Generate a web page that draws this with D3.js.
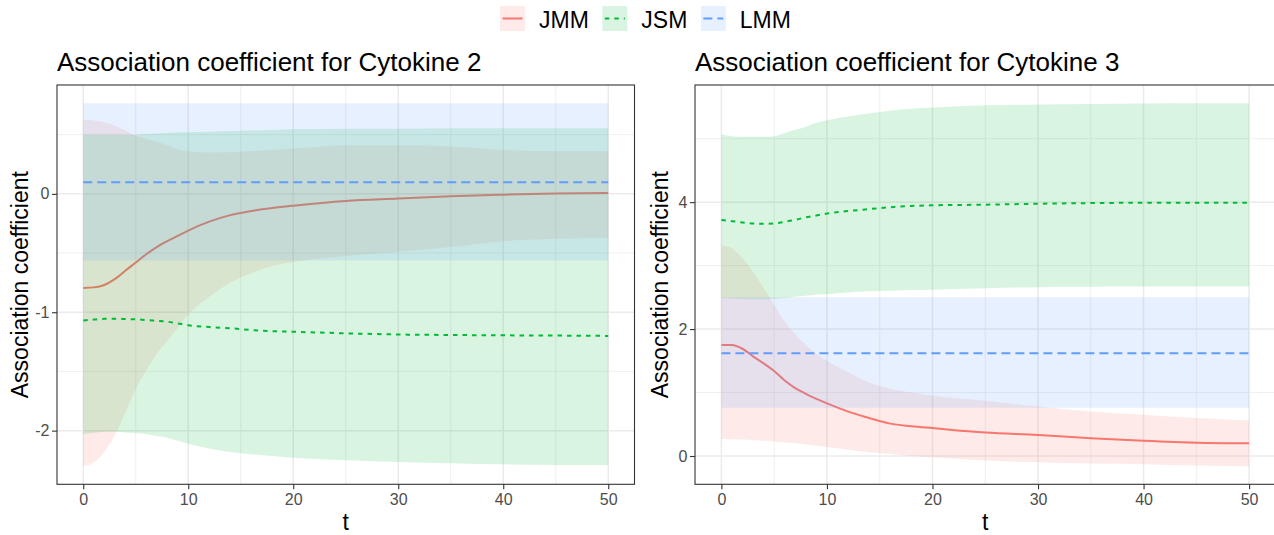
<!DOCTYPE html>
<html>
<head>
<meta charset="utf-8">
<script src="https://cdn.jsdelivr.net/npm/d3@7"></script>
<style>
  body { margin: 0; background: #fff; }
  svg text { font-family: "Liberation Sans", Arial, sans-serif; }
</style>
</head>
<body>
<svg id="chart" width="1274" height="535"></svg>
<script>
// time grid the curves were read at
const times = [0, 1, 2, 3, 4, 5, 6, 7, 8, 9, 10, 12, 14, 16, 18, 20, 25, 30, 35, 40, 45, 50];
const lmmTimes = [0, 50];

const models = ["JMM", "JSM", "LMM"];
const colors = ["#F8766D", "#00BA38", "#619CFF"];
const dashes = [null, "4.5,5", "9,5"];

const xTicks = [0, 10, 20, 30, 40, 50];

// Cytokine 2
const c2JmmEst  = [-0.795, -0.79, -0.77, -0.72, -0.65, -0.58, -0.51, -0.45, -0.40, -0.355, -0.31, -0.235, -0.18, -0.145, -0.12, -0.10, -0.06, -0.04, -0.02, -0.007, 0.003, 0.008];
const c2JmmLow  = [-2.30, -2.27, -2.18, -2.04, -1.85, -1.65, -1.49, -1.35, -1.24, -1.13, -1.02, -0.87, -0.75, -0.67, -0.61, -0.575, -0.525, -0.49, -0.45, -0.40, -0.38, -0.37];
const c2JmmHigh = [0.625, 0.62, 0.605, 0.575, 0.535, 0.49, 0.465, 0.44, 0.41, 0.375, 0.36, 0.35, 0.352, 0.36, 0.37, 0.38, 0.41, 0.41, 0.40, 0.37, 0.36, 0.36];
const c2JsmEst  = [-1.07, -1.062, -1.056, -1.055, -1.057, -1.06, -1.066, -1.073, -1.08, -1.095, -1.11, -1.125, -1.135, -1.15, -1.16, -1.165, -1.178, -1.188, -1.192, -1.195, -1.197, -1.2];
const c2JsmLow  = [-2.03, -2.02, -2.01, -2.01, -2.015, -2.02, -2.03, -2.045, -2.06, -2.085, -2.11, -2.15, -2.18, -2.20, -2.215, -2.23, -2.25, -2.265, -2.275, -2.285, -2.29, -2.29];
const c2JsmHigh = [0.50, 0.50, 0.50, 0.50, 0.50, 0.50, 0.505, 0.51, 0.515, 0.52, 0.52, 0.525, 0.53, 0.535, 0.54, 0.545, 0.55, 0.55, 0.555, 0.555, 0.555, 0.555];
const c2LmmEst  = [0.098, 0.098];
const c2LmmLow  = [-0.564, -0.564];
const c2LmmHigh = [0.766, 0.766];
const c2YTicks  = [-2, -1, 0];

// Cytokine 3
const c3JmmEst  = [1.75, 1.75, 1.69, 1.57, 1.46, 1.34, 1.19, 1.07, 0.98, 0.90, 0.83, 0.70, 0.60, 0.51, 0.47, 0.44, 0.37, 0.33, 0.28, 0.24, 0.21, 0.20];
const c3JmmLow  = [0.27, 0.265, 0.26, 0.25, 0.24, 0.23, 0.215, 0.20, 0.18, 0.16, 0.14, 0.10, 0.06, 0.03, 0.00, -0.02, -0.07, -0.10, -0.12, -0.13, -0.15, -0.16];
const c3JmmHigh = [3.32, 3.27, 3.12, 2.90, 2.65, 2.38, 2.12, 1.92, 1.75, 1.61, 1.50, 1.32, 1.16, 1.06, 1.00, 0.95, 0.87, 0.78, 0.70, 0.65, 0.60, 0.56];
const c3JsmEst  = [3.72, 3.70, 3.68, 3.665, 3.66, 3.665, 3.69, 3.72, 3.76, 3.79, 3.82, 3.86, 3.89, 3.92, 3.94, 3.95, 3.96, 3.975, 3.985, 3.99, 3.99, 3.99];
const c3JsmLow  = [2.49, 2.48, 2.475, 2.47, 2.47, 2.475, 2.49, 2.51, 2.525, 2.54, 2.55, 2.575, 2.595, 2.605, 2.615, 2.62, 2.645, 2.66, 2.665, 2.67, 2.67, 2.67];
const c3JsmHigh = [5.07, 5.04, 5.03, 5.03, 5.03, 5.04, 5.09, 5.14, 5.19, 5.25, 5.29, 5.35, 5.40, 5.44, 5.47, 5.49, 5.525, 5.54, 5.545, 5.555, 5.56, 5.56];
const c3LmmEst  = [1.62, 1.62];
const c3LmmLow  = [0.76, 0.76];
const c3LmmHigh = [2.50, 2.50];
const c3YTicks  = [0, 2, 4];

function toSeries(t, est, low, high) {
  return t.map((d, i) => ({ t: d, est: est[i], low: low[i], high: high[i] }));
}

const svg = d3.select("#chart");

function drawPanel(p) {
  const g = svg.append("g");
  const x = d3.scaleLinear().domain([-2.5, 52.5]).range([p.left, p.right]);
  const lo = d3.min(p.series, s => d3.min(s, d => d.low));
  const hi = d3.max(p.series, s => d3.max(s, d => d.high));
  const pad = (hi - lo) * 0.05;
  const y = d3.scaleLinear().domain([lo - pad, hi + pad]).range([p.bottom, p.top]);

  const step = p.yTicks[1] - p.yTicks[0];
  const yMinor = d3.range(p.yTicks[0] - step / 2, p.yTicks[p.yTicks.length - 1] + step, step)
    .filter(v => v > y.domain()[0] && v < y.domain()[1]);
  const xMinor = [5, 15, 25, 35, 45];

  // grid
  g.selectAll("line.ymin").data(yMinor).enter().append("line")
    .attr("x1", p.left).attr("x2", p.right)
    .attr("y1", d => y(d)).attr("y2", d => y(d))
    .attr("stroke", "#EBEBEB").attr("stroke-width", 0.8);
  g.selectAll("line.xmin").data(xMinor).enter().append("line")
    .attr("y1", p.top).attr("y2", p.bottom)
    .attr("x1", d => x(d)).attr("x2", d => x(d))
    .attr("stroke", "#EBEBEB").attr("stroke-width", 0.8);
  g.selectAll("line.ymaj").data(p.yTicks).enter().append("line")
    .attr("x1", p.left).attr("x2", p.right)
    .attr("y1", d => y(d)).attr("y2", d => y(d))
    .attr("stroke", "#EBEBEB").attr("stroke-width", 1.5);
  g.selectAll("line.xmaj").data(xTicks).enter().append("line")
    .attr("y1", p.top).attr("y2", p.bottom)
    .attr("x1", d => x(d)).attr("x2", d => x(d))
    .attr("stroke", "#EBEBEB").attr("stroke-width", 1.5);

  const area = d3.area().x(d => x(d.t)).y0(d => y(d.low)).y1(d => y(d.high)).curve(d3.curveMonotoneX);
  const line = d3.line().x(d => x(d.t)).y(d => y(d.est)).curve(d3.curveMonotoneX);

  // ribbon then line, per model
  p.series.forEach((s, i) => {
    g.append("path").attr("d", area(s))
      .attr("fill", colors[i]).attr("fill-opacity", 0.15);
    g.append("path").attr("d", line(s))
      .attr("fill", "none").attr("stroke", colors[i]).attr("stroke-width", 2)
      .attr("stroke-dasharray", dashes[i]);
  });

  g.append("rect")
    .attr("x", p.left).attr("y", p.top)
    .attr("width", p.right - p.left).attr("height", p.bottom - p.top)
    .attr("fill", "none").attr("stroke", "#333333").attr("stroke-width", 1.1);

  const fmt = d => String(d);
  const xAxis = g.append("g")
    .attr("transform", `translate(0,${p.bottom})`)
    .call(d3.axisBottom(x).tickValues(xTicks).tickFormat(fmt).tickSize(5).tickPadding(4));
  const yAxis = g.append("g")
    .attr("transform", `translate(${p.left},0)`)
    .call(d3.axisLeft(y).tickValues(p.yTicks).tickFormat(fmt).tickSize(5).tickPadding(2.5));
  [xAxis, yAxis].forEach(a => {
    a.select(".domain").remove();
    a.selectAll(".tick line").attr("stroke", "#333333").attr("stroke-width", 1.1);
    a.selectAll(".tick text").attr("fill", "#4D4D4D").style("font-size", "16px")
      .style("font-family", "'Liberation Sans', Arial, sans-serif");
  });

  g.append("text")
    .attr("x", p.left).attr("y", 71)
    .style("font-size", "26px").attr("fill", "#000")
    .text(p.title);
  g.append("text")
    .attr("x", (p.left + p.right) / 2).attr("y", 530)
    .attr("text-anchor", "middle")
    .style("font-size", "23px").attr("fill", "#000")
    .text("t");
  g.append("text")
    .attr("transform", `translate(${p.yTitleX},${(p.top + p.bottom) / 2}) rotate(-90)`)
    .attr("text-anchor", "middle")
    .style("font-size", "23px").attr("fill", "#000")
    .text("Association coefficient");
}

drawPanel({
  title: "Association coefficient for Cytokine 2",
  left: 57, right: 634.5, top: 85, bottom: 484.3, yTitleX: 27.5,
  yTicks: c2YTicks,
  series: [
    toSeries(times, c2JmmEst, c2JmmLow, c2JmmHigh),
    toSeries(times, c2JsmEst, c2JsmLow, c2JsmHigh),
    toSeries(lmmTimes, c2LmmEst, c2LmmLow, c2LmmHigh)
  ]
});

drawPanel({
  title: "Association coefficient for Cytokine 3",
  left: 695, right: 1275.5, top: 85, bottom: 484.3, yTitleX: 668,
  yTicks: c3YTicks,
  series: [
    toSeries(times, c3JmmEst, c3JmmLow, c3JmmHigh),
    toSeries(times, c3JsmEst, c3JsmLow, c3JsmHigh),
    toSeries(lmmTimes, c3LmmEst, c3LmmLow, c3LmmHigh)
  ]
});

// legend
const legend = svg.append("g");
let lx = 500;
models.forEach((m, i) => {
  legend.append("rect")
    .attr("x", lx).attr("y", 6).attr("width", 25).attr("height", 25)
    .attr("fill", colors[i]).attr("fill-opacity", 0.15);
  legend.append("line")
    .attr("x1", lx + 2.5).attr("x2", lx + 22.5).attr("y1", 18.5).attr("y2", 18.5)
    .attr("stroke", colors[i]).attr("stroke-width", 2)
    .attr("stroke-dasharray", dashes[i]);
  const txt = legend.append("text")
    .attr("x", lx + 39).attr("y", 28.3)
    .style("font-size", "23px").attr("fill", "#000")
    .text(m);
  lx += 39 + txt.node().getComputedTextLength() + 13.5;
});
</script>
</body>
</html>
